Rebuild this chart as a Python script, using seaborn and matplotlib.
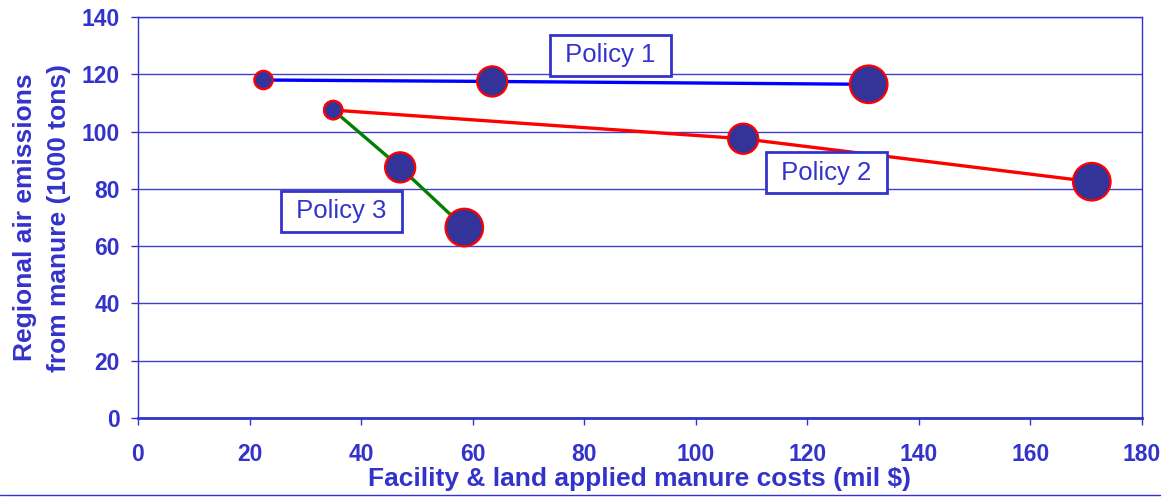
import matplotlib
matplotlib.use("Agg")
import matplotlib.pyplot as plt
import seaborn as sns
import pandas as pd
from matplotlib.lines import Line2D

# ---- data ----
policies = ["Policy 1", "Policy 1", "Policy 1",
            "Policy 2", "Policy 2", "Policy 2",
            "Policy 3", "Policy 3", "Policy 3"]
steps = [1, 2, 3, 1, 2, 3, 1, 2, 3]
costs = [22.5, 63.5, 131.0, 35.0, 108.5, 171.0, 35.0, 47.0, 58.5]
emissions = [118.0, 117.5, 116.5, 107.5, 97.5, 82.5, 107.5, 87.5, 66.5]
x_ticks = [0, 20, 40, 60, 80, 100, 120, 140, 160, 180]
y_ticks = [0, 20, 40, 60, 80, 100, 120, 140]
label_names = ["Policy 1", "Policy 2", "Policy 3"]
label_x = [84.7, 123.4, 36.5]
label_y = [126.6, 85.7, 72.1]

df = pd.DataFrame({"policy": policies, "step": steps,
                   "cost": costs, "emission": emissions})

TXT = "#3333CC"
sns.set_theme(style="white")
plt.rcParams["font.family"] = ["Liberation Sans", "DejaVu Sans"]

fig = plt.figure(figsize=(11.71, 4.98), dpi=100)
ax = fig.add_axes([138/1171, 80/498, (1142-138)/1171, (418-17)/498])

line_colors = {"Policy 1": "#0000FF", "Policy 2": "#FF0000", "Policy 3": "#008000"}
sns.lineplot(data=df, x="cost", y="emission", hue="policy", palette=line_colors,
             sort=False, estimator=None, linewidth=2.4, legend=False, ax=ax, zorder=3)

sns.scatterplot(data=df, x="cost", y="emission", size="step",
                sizes={1: 175, 2: 470, 3: 730}, color="#333399",
                edgecolor="#FF0000", linewidth=1.6, legend=False, ax=ax, zorder=4)

ax.set_xlim(0, 180)
ax.set_ylim(0, 140)
ax.set_xticks(x_ticks)
ax.set_yticks(y_ticks)
ax.set_xticklabels([str(v) for v in x_ticks])
ax.set_yticklabels([str(v) for v in y_ticks])
ax.grid(axis="y", color="#4040CC", linewidth=1.0)
ax.grid(axis="x", visible=False)
ax.set_axisbelow(True)

for side in ["left", "right", "top"]:
    ax.spines[side].set_color("#3333CC")
    ax.spines[side].set_linewidth(1.0)
ax.spines["bottom"].set_color("#3333CC")
ax.spines["bottom"].set_linewidth(2.0)

ax.tick_params(axis="both", colors=TXT, labelsize=16.5, length=5, width=1,
               direction="out", bottom=True, left=True)
ax.tick_params(axis="x", pad=13)
ax.tick_params(axis="y", pad=8)
for lab in ax.get_xticklabels() + ax.get_yticklabels():
    lab.set_fontweight("bold")
    lab.set_color(TXT)

ax.set_xlabel("Facility & land applied manure costs (mil $)", fontsize=19,
              fontweight="bold", color=TXT, labelpad=1)
ax.set_ylabel("Regional air emissions\nfrom manure (1000 tons)", fontsize=19,
              fontweight="bold", color=TXT, labelpad=8, linespacing=1.5)

box = dict(boxstyle="square,pad=0.33", facecolor="white", edgecolor="#3333CC", linewidth=2.0)
for name, lx, ly in zip(label_names, label_x, label_y):
    ax.text(lx, ly, " " + name + " ", fontsize=18.5, color=TXT, ha="center", va="center",
            bbox=box, zorder=5)

fig.add_artist(Line2D([0, 1160/1171], [3/498, 3/498], color="#3333CC", linewidth=1.0,
                      transform=fig.transFigure))

fig.savefig("out.png", dpi=100)
